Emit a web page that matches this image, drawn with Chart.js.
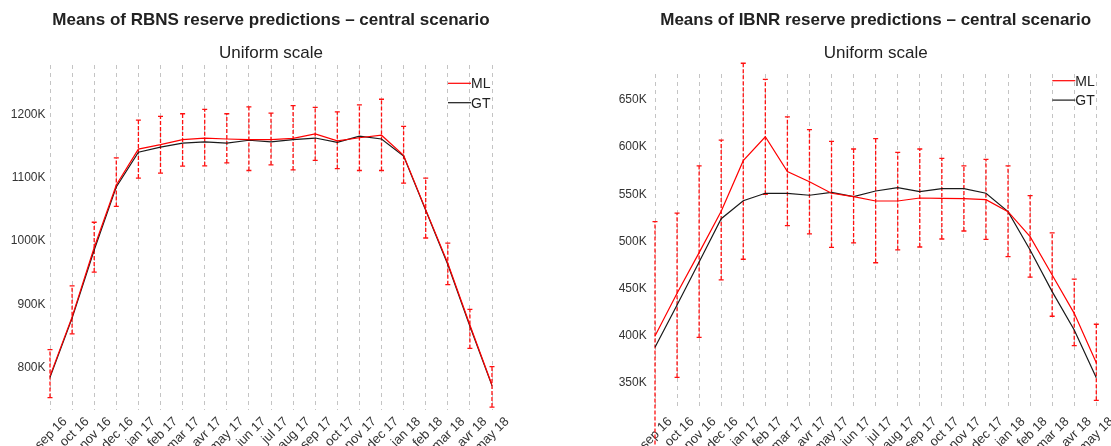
<!DOCTYPE html>
<html>
<head>
<meta charset="utf-8">
<script src="https://cdn.jsdelivr.net/npm/chart.js@4.4.0/dist/chart.umd.min.js"></script>
<style>
  html, body { margin: 0; padding: 0; background: #fff; }
  .wrap { position: absolute; top: 0; height: 446px; }
  #left { left: 0; width: 555px; }
  #right { left: 555px; width: 556px; }
</style>
</head>
<body>
<div class="wrap" id="left"><canvas id="rbnsChart"></canvas></div>
<div class="wrap" id="right"><canvas id="ibnrChart"></canvas></div>
<script>
// values in thousands
const months = ['sep 16', 'oct 16', 'nov 16', 'dec 16', 'jan 17', 'feb 17', 'mar 17', 'avr 17', 'may 17', 'jun 17', 'jul 17',
    'aug 17', 'sep 17', 'oct 17', 'nov 17', 'dec 17', 'jan 18', 'feb 18', 'mar 18', 'avr 18', 'may 18'];

const rbnsML = [786, 880, 990, 1089, 1146, 1153, 1161, 1163.5, 1162, 1161, 1161, 1163, 1170, 1159, 1164, 1168, 1136, 1050, 965, 867, 772];
const rbnsGT = [784, 878, 986, 1086, 1141, 1149, 1155.5, 1157.5, 1155.5, 1160, 1157.5, 1161, 1163.5, 1156.5, 1166.5, 1162, 1135, 1049, 963, 865, 771];
const rbnsUpper = [828, 929, 1030, 1132, 1192, 1198, 1202, 1209, 1202, 1213, 1203, 1215, 1212, 1205, 1216, 1225, 1182, 1100, 997, 892, 801];
const rbnsLower = [752, 853, 951, 1055, 1100, 1108, 1119, 1119.5, 1124, 1112, 1121, 1113, 1128, 1115, 1112, 1112, 1092, 1005, 931, 830, 737];
const rbnsTicks = [800, 900, 1000, 1100, 1200];

const ibnrML = [399.6, 444.9, 488, 532, 585.6, 611, 574, 563.3, 551, 547.4, 542.8, 542.8, 546, 545.7, 545.3, 544.2, 531.5, 505, 464.3, 423.6, 371.2];
const ibnrGT = [387.6, 432.5, 478, 524, 543.1, 551, 551, 548.9, 552, 547.4, 553.4, 557, 552.7, 555.9, 555.9, 551, 531.5, 490.8, 446.6, 405.9, 355.3];
const ibnrUpper = [521, 530, 580, 607.5, 689, 672, 632, 618.5, 606, 598, 609, 594.5, 598, 588, 580, 587, 580, 548.5, 509, 460, 412];
const ibnrLower = [278, 355.7, 398, 459, 481, 550, 516.6, 508, 493.7, 498.3, 477.3, 491, 494, 502.5, 511, 502, 483.7, 462, 420.5, 389.3, 331.3];
const ibnrTicks = [350, 400, 450, 500, 550, 600, 650];

const FONT = '"Liberation Sans", Arial, Helvetica, sans-serif';
Chart.defaults.font.family = FONT;

// dashed red error bars with small caps, drawn under the lines
const errorBars = {
    id: 'errorBars',
    beforeDatasetsDraw(chart) {
        const ds = chart.data.datasets[0];
        const { ctx, scales: { x, y } } = chart;
        ctx.save();
        ctx.strokeStyle = '#ff1010';
        ctx.lineWidth = 1.3;
        ds.errLower.forEach((lo, i) => {
            const px = x.getPixelForValue(i);
            const yLo = y.getPixelForValue(lo);
            const yHi = y.getPixelForValue(ds.errUpper[i]);
            ctx.setLineDash([4, 2]);
            ctx.beginPath();
            ctx.moveTo(px, yLo);
            ctx.lineTo(px, yHi);
            ctx.stroke();
            ctx.setLineDash([]);
            ctx.beginPath();
            ctx.moveTo(px - 2.5, yLo);
            ctx.lineTo(px + 2.5, yLo);
            ctx.moveTo(px - 2.5, yHi);
            ctx.lineTo(px + 2.5, yHi);
            ctx.stroke();
        });
        ctx.restore();
    }
};

// title + subtitle centred over the plot area
const headings = {
    id: 'headings',
    afterDraw(chart, args, opts) {
        const { ctx, chartArea } = chart;
        const cx = (chartArea.left + chartArea.right) / 2;
        ctx.save();
        ctx.fillStyle = '#222';
        ctx.textAlign = 'center';
        ctx.textBaseline = 'middle';
        ctx.font = 'bold 17px ' + FONT;
        ctx.fillText(opts.title, cx, 20.5);
        ctx.font = '17px ' + FONT;
        ctx.fillText(opts.subtitle, cx, 53);
        ctx.restore();
    }
};

// line-sample legend in the top right corner
const lineLegend = {
    id: 'lineLegend',
    afterDraw(chart, args, opts) {
        const { ctx, chartArea } = chart;
        const right = chartArea.right;
        ctx.save();
        chart.data.datasets.forEach((ds, i) => {
            const yy = opts.top + i * 19.4;
            ctx.strokeStyle = ds.borderColor;
            ctx.lineWidth = 1.2;
            ctx.beginPath();
            ctx.moveTo(right - 44, yy);
            ctx.lineTo(right - 21, yy);
            ctx.stroke();
            ctx.fillStyle = '#222';
            ctx.font = '14px ' + FONT;
            ctx.textAlign = 'left';
            ctx.textBaseline = 'middle';
            ctx.fillText(ds.label, right - 21, yy + 1);
        });
        ctx.restore();
    }
};

function makeChart(canvasId, title, ml, gt, lower, upper, yMin, yMax, yTicks, layout) {
    return new Chart(document.getElementById(canvasId), {
        type: 'line',
        data: {
            labels: months,
            datasets: [{
                label: 'ML',
                data: ml,
                borderColor: '#ff0000',
                borderWidth: 1.2,
                pointRadius: 0,
                errLower: lower,
                errUpper: upper
            }, {
                label: 'GT',
                data: gt,
                borderColor: '#1a1a1a',
                borderWidth: 1.2,
                pointRadius: 0
            }]
        },
        options: {
            responsive: true,
            maintainAspectRatio: false,
            animation: false,
            layout: { padding: { top: layout.top, right: layout.right, bottom: 0, left: 0 } },
            scales: {
                x: {
                    offset: false,
                    grid: { color: '#c4c4c4', drawTicks: false },
                    border: { display: false, dash: [4, 4] },
                    ticks: {
                        autoSkip: false, minRotation: 45, maxRotation: 45,
                        labelOffset: 15, padding: 4, color: '#333',
                        font: { size: 13 }
                    },
                    afterFit(axis) {
                        axis.height = 36;
                        axis.paddingLeft = 0;
                        axis.paddingRight = 0;
                    }
                },
                y: {
                    min: yMin,
                    max: yMax,
                    grid: { display: false, drawTicks: false },
                    border: { display: false },
                    ticks: {
                        padding: layout.yPad, color: '#333',
                        font: { size: 12 },
                        callback: (v) => v + 'K'
                    },
                    afterBuildTicks(axis) {
                        axis.ticks = yTicks.map(v => ({ value: v }));
                    },
                    afterFit(axis) {
                        axis.width = layout.yWidth;
                    }
                }
            },
            plugins: {
                legend: { display: false },
                tooltip: { enabled: false },
                headings: { title: title, subtitle: 'Uniform scale' },
                lineLegend: { top: layout.legendTop }
            }
        },
        plugins: [errorBars, headings, lineLegend]
    });
}

makeChart('rbnsChart', 'Means of RBNS reserve predictions \u2013 central scenario',
    rbnsML, rbnsGT, rbnsLower, rbnsUpper, 732.3, 1279.3, rbnsTicks,
    { top: 65, right: 63, yWidth: 50, yPad: 4.5, legendTop: 83.3 });

makeChart('ibnrChart', 'Means of IBNR reserve predictions \u2013 central scenario',
    ibnrML, ibnrGT, ibnrLower, ibnrUpper, 321.0, 677.6, ibnrTicks,
    { top: 74, right: 14.7, yWidth: 100, yPad: 8.3, legendTop: 80.7 });
</script>
</body>
</html>
